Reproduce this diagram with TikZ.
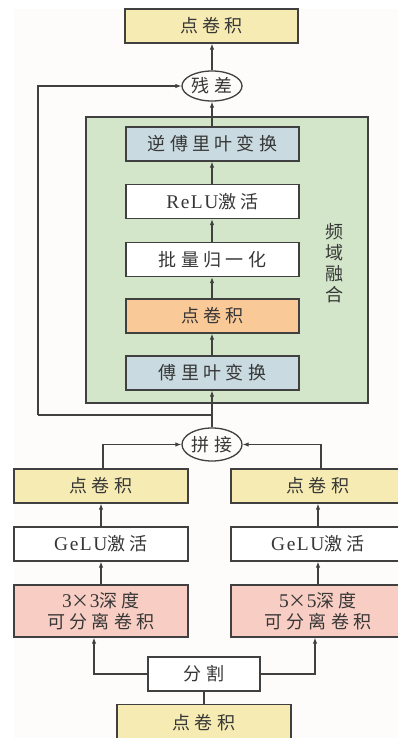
\documentclass[tikz,border=0pt]{standalone}
\usepackage{fontspec}
\setmainfont{Liberation Serif}
\newfontfamily\cjk[LetterSpace=24]{Noto Sans CJK SC}
\newfontfamily\latf[LetterSpace=8,Scale=1.08]{Liberation Serif}
\usetikzlibrary{arrows.meta,shapes.geometric,calc}
\definecolor{bgc}{RGB}{253,252,250}
\definecolor{bord}{RGB}{64,64,64}
\definecolor{txt}{RGB}{55,55,55}
\definecolor{yel}{RGB}{246,235,178}
\definecolor{grn}{RGB}{211,230,202}
\definecolor{blu}{RGB}{201,218,224}
\definecolor{org}{RGB}{250,201,152}
\definecolor{pnk}{RGB}{248,206,196}
\tikzset{
  box/.style={draw=bord, line width=1.3pt, rectangle, minimum width=173pt, minimum height=34pt, inner sep=0pt, align=center, text=txt, font=\fontsize{18}{21}\selectfont\cjk},
  oval/.style={draw=bord, line width=1.3pt, ellipse, minimum width=60pt, inner sep=0pt, text=txt, font=\fontsize{18}{21}\selectfont\cjk},
  conn/.style={draw=bord, line width=1.1pt},
  arr/.style={conn, -{Latex[length=6pt,width=4.5pt]}},
}
\begin{document}
\begin{tikzpicture}[x=1pt,y=-1pt]
\useasboundingbox (0,0) rectangle (398,738);
\clip (0,0) rectangle (398,738);
\fill[bgc] (14,9) rectangle (400,740);

\node[box, fill=yel] (top) at (211.5,26) {点卷积};
\node[oval, minimum height=30pt] (res) at (212,86) {残差};
\node[draw=bord, line width=1.3pt, fill=grn, minimum width=282pt, minimum height=286pt, inner sep=0pt] (freq) at (227,260) {};
\node[box, fill=blu] (ifft) at (212.5,144) {逆傅里叶变换};
\node[box, fill=white] (relu) at (212.5,201.5) {{\latf ReLU}激活};
\node[box, fill=white] (bn) at (212.5,259.5) {批量归一化};
\node[box, fill=org] (pw) at (212.5,316) {点卷积};
\node[box, fill=blu] (fft) at (212.5,373) {傅里叶变换};
\node[text=txt, font=\fontsize{18}{21}\selectfont\cjk, align=center, inner sep=0pt] (lbl) at (334,263) {频\\域\\融\\合};

\node[oval, minimum height=33pt] (cat) at (212,444.5) {拼接};
\node[box, minimum width=174pt, fill=yel] (lp) at (101,486) {点卷积};
\node[box, minimum width=174pt, fill=yel] (rp) at (318,486) {点卷积};
\node[box, minimum width=174pt, fill=white] (lg) at (101,544) {{\latf GeLU}激活};
\node[box, minimum width=174pt, fill=white] (rg) at (318,544) {{\latf GeLU}激活};
\node[box, minimum width=174pt, minimum height=52pt, fill=pnk] (ld) at (101,611) {{\latf 3}×{\latf 3}深度\\可分离卷积};
\node[box, minimum width=174pt, minimum height=52pt, fill=pnk] (rd) at (318,611) {{\latf 5}×{\latf 5}深度\\可分离卷积};
\node[box, minimum width=112pt, fill=white] (split) at (204,674) {分割};
\node[box, minimum width=174pt, minimum height=36pt, fill=yel] (bot) at (204,722.5) {点卷积};

\coordinate (j) at (212,415);
\coordinate (lc) at (38,415);
\draw[arr] (cat.north) -- (fft.south -| cat.north);
\draw[conn] (j) -- (lc);
\draw[arr] (lc) |- (res.west);
\draw[arr] (fft.north -| cat.north) -- (pw.south -| cat.north);
\draw[arr] (pw.north -| cat.north) -- (bn.south -| cat.north);
\draw[arr] (bn.north -| cat.north) -- (relu.south -| cat.north);
\draw[arr] (relu.north -| cat.north) -- (ifft.south -| cat.north);
\draw[arr] (ifft.north -| cat.north) -- (res.south);
\draw[arr] (res.north) -- (top.south -| res.north);

\draw[arr] ([xshift=2pt]lp.north) |- (cat.west);
\draw[arr] ([xshift=3pt]rp.north) |- (cat.east);
\draw[arr] (lg.north) -- (lp.south);
\draw[arr] (rg.north) -- (rp.south);
\draw[arr] (ld.north) -- (lg.south);
\draw[arr] (rd.north) -- (rg.south);
\draw[arr] (split.west) -| ([xshift=-7pt]ld.south);
\draw[arr] (split.east) -| ([xshift=-3pt]rd.south);
\draw[conn] (bot.north) -- (split.south);
\end{tikzpicture}
\end{document}
